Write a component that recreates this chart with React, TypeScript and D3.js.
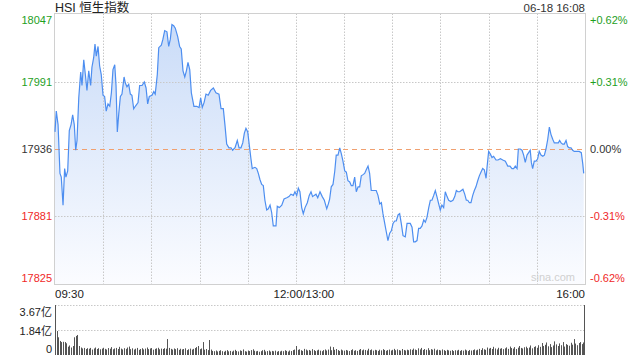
import React, { useMemo } from "react";
import * as d3 from "d3";

// HSI intraday, [minute since 09:30 (lunch removed), price]
const prevClose = 17936;
const priceTicks = [17825, 17881, 17936, 17991, 18047];
const volTicks = [0, 1.84, 3.67];
const timeLabels = [
  { m: 0, text: "09:30", anchor: "start" },
  { m: 150, text: "12:00/13:00", anchor: "middle" },
  { m: 330, text: "16:00", anchor: "end" },
];

const prices: [number, number][] = [
  [0, 17950], [0.8, 17967], [1.9, 17956], [3.1, 17916], [3.9, 17913], [5.0, 17890],
  [6.0, 17920], [6.8, 17913], [7.9, 17918], [8.9, 17951], [10.0, 17956], [11.0, 17964],
  [12.0, 17956], [12.9, 17935], [13.7, 17943], [14.8, 17978], [16.0, 17999], [16.8, 17988],
  [17.9, 18009], [18.9, 17997], [19.9, 17984], [21.0, 18000], [22.2, 17988], [23.0, 18003],
  [24.1, 18011], [24.9, 18022], [25.7, 18012], [26.8, 18020], [27.8, 18004], [28.8, 17997],
  [29.9, 17980], [30.9, 17979], [31.9, 17967], [33.0, 17973], [34.1, 17971], [35.1, 17982],
  [36.1, 18001], [37.2, 18005], [38.0, 17988], [38.8, 17950], [39.7, 17965], [40.7, 17979],
  [41.7, 17981], [43.0, 17995], [43.8, 17990], [44.8, 17987], [45.9, 17989], [46.9, 17981],
  [47.9, 17980], [49.0, 17969], [50.0, 17971], [51.7, 17974], [52.7, 17988], [54.2, 17988],
  [55.6, 17991], [56.7, 17986], [57.7, 17973], [58.7, 17979], [60.4, 17980], [61.5, 17983],
  [62.4, 17981], [63.7, 17997], [64.6, 18019], [66.2, 18021], [67.2, 18026], [68.3, 18033],
  [69.7, 18032], [70.8, 18020], [71.8, 18026], [72.8, 18038], [73.9, 18037], [74.9, 18035],
  [76.4, 18028], [77.6, 18020], [78.6, 18018], [79.7, 18000], [80.8, 17995], [81.8, 18000],
  [82.8, 18007], [83.9, 18001], [84.9, 17982], [86.5, 17971], [88.2, 17971], [89.7, 17970],
  [90.7, 17978], [91.7, 17970], [92.8, 17974], [94.0, 17981], [95.4, 17980], [96.9, 17984],
  [98.6, 17986], [100.2, 17982], [102.1, 17981], [103.4, 17969], [104.8, 17969], [105.8, 17956],
  [106.9, 17940], [108.3, 17937], [109.6, 17937], [110.6, 17935], [112.1, 17937], [113.5, 17943],
  [114.6, 17937], [115.8, 17937], [116.9, 17941], [117.9, 17949], [118.9, 17953], [120.0, 17950],
  [121.0, 17939], [122.0, 17928], [122.8, 17920], [124.5, 17921], [125.6, 17920], [126.6, 17916],
  [127.6, 17911], [128.7, 17907], [129.7, 17906], [130.7, 17894], [131.8, 17886], [132.8, 17887],
  [133.9, 17890], [134.9, 17884], [135.9, 17873], [137.6, 17873], [138.4, 17889], [139.7, 17888],
  [141.2, 17890], [142.6, 17895], [144.3, 17896], [145.7, 17897], [146.9, 17899], [148.4, 17898],
  [149.4, 17901], [150.5, 17898], [151.5, 17904], [152.5, 17901], [153.6, 17888], [154.6, 17883],
  [155.7, 17888], [157.1, 17892], [158.3, 17898], [159.4, 17901], [160.4, 17897], [161.4, 17898],
  [162.5, 17899], [163.6, 17896], [165.0, 17901], [166.4, 17897], [167.7, 17894], [169.2, 17887],
  [170.2, 17891], [171.0, 17895], [172.0, 17905], [173.1, 17907], [174.2, 17918], [175.1, 17931],
  [176.2, 17931], [177.3, 17937], [178.3, 17932], [179.3, 17926], [180.4, 17918], [181.4, 17917],
  [182.4, 17910], [183.5, 17909], [184.5, 17906], [185.5, 17906], [186.6, 17913], [187.6, 17901],
  [188.7, 17905], [189.7, 17905], [190.7, 17914], [191.8, 17915], [192.8, 17916], [193.8, 17919],
  [194.9, 17922], [195.9, 17916], [196.9, 17902], [198.4, 17902], [200.0, 17902], [201.1, 17898],
  [202.2, 17891], [203.2, 17892], [204.2, 17883], [205.3, 17875], [206.3, 17868], [207.3, 17861],
  [208.4, 17867], [209.4, 17869], [210.5, 17875], [211.5, 17877], [212.5, 17877], [213.6, 17882],
  [214.6, 17883], [215.6, 17875], [216.7, 17865], [218.1, 17864], [219.2, 17875], [220.2, 17875],
  [221.2, 17875], [222.3, 17872], [223.3, 17860], [224.3, 17860], [225.4, 17861], [226.4, 17871],
  [227.4, 17871], [228.5, 17873], [229.6, 17878], [230.6, 17876], [231.6, 17880], [232.7, 17888],
  [233.7, 17894], [234.7, 17894], [235.8, 17898], [236.8, 17902], [237.8, 17897], [238.9, 17891],
  [239.9, 17886], [240.9, 17890], [242.0, 17888], [243.0, 17901], [244.1, 17897], [245.1, 17894],
  [246.4, 17893], [247.8, 17894], [248.9, 17897], [249.9, 17902], [250.9, 17901], [252.0, 17901],
  [253.0, 17902], [254.0, 17903], [255.1, 17899], [256.1, 17894], [257.0, 17894], [258.0, 17892],
  [259.0, 17892], [260.1, 17898], [261.1, 17902], [262.1, 17905], [263.2, 17910], [264.2, 17914],
  [265.2, 17917], [266.3, 17920], [267.3, 17919], [268.4, 17912], [269.0, 17921], [270.0, 17934],
  [271.0, 17932], [272.1, 17929], [273.1, 17930], [274.6, 17927], [275.8, 17927], [277.3, 17928],
  [278.8, 17927], [280.4, 17926], [281.9, 17922], [283.3, 17922], [284.5, 17920], [285.6, 17920],
  [286.6, 17922], [287.7, 17920], [288.5, 17936], [289.7, 17936], [290.8, 17935], [291.8, 17931],
  [292.8, 17925], [293.9, 17931], [294.9, 17933], [295.9, 17935], [296.6, 17925], [297.4, 17920],
  [298.4, 17926], [299.5, 17926], [300.5, 17928], [301.5, 17934], [302.6, 17931], [303.7, 17930],
  [304.7, 17931], [305.7, 17936], [306.8, 17944], [307.8, 17954], [308.8, 17948], [309.9, 17944],
  [310.9, 17941], [312.4, 17941], [313.4, 17941], [314.2, 17943], [315.1, 17941], [316.1, 17940],
  [317.1, 17940], [318.2, 17943], [319.2, 17938], [320.2, 17937], [321.3, 17937], [322.3, 17935],
  [323.3, 17934], [325.0, 17934], [326.4, 17934], [327.7, 17933], [328.6, 17924], [329.2, 17916],
];

// volume per minute, 亿
const volumes = [
  3.67, 1.76, 1.30, 1.03, 0.95, 0.97, 0.95, 0.86, 0.61, 0.70,
  0.55, 0.66, 1.30, 1.40, 1.47, 0.66, 0.55, 0.48, 0.52, 0.44,
  0.50, 0.46, 0.52, 0.40, 0.48, 0.55, 0.44, 0.50, 0.42, 0.47,
  0.53, 0.45, 0.40, 0.51, 0.46, 0.58, 0.42, 0.48, 0.52, 0.44,
  0.60, 0.47, 0.41, 0.50, 0.45, 0.55, 0.62, 0.43, 0.49, 0.40,
  0.46, 0.52, 0.38, 0.44, 0.50, 0.41, 0.47, 0.55, 0.43, 0.48,
  0.51, 0.39, 0.45, 0.49, 0.53, 0.42, 0.47, 0.44, 0.50, 0.46,
  1.17, 0.52, 0.45, 0.40, 0.48, 0.43, 0.50, 0.38, 0.46, 0.41,
  0.44, 0.49, 0.36, 0.42, 0.47, 0.40, 0.45, 0.51, 0.58, 0.66,
  0.43, 0.48, 0.95, 0.39, 0.44, 0.36, 1.10, 0.40, 0.30, 0.28,
  0.33, 0.26, 0.30, 0.35, 0.28, 0.24, 0.31, 0.36, 0.27, 0.30,
  0.25, 0.32, 0.38, 0.29, 0.26, 0.34, 0.30, 0.41, 0.28, 0.25,
  0.33, 0.29, 0.36, 0.42, 0.31, 0.27, 0.30, 0.24, 0.28, 0.35,
  0.38, 0.26, 0.29, 0.33, 0.25, 0.30, 0.27, 0.32, 0.24, 0.29,
  0.26, 0.31, 0.28, 0.35, 0.30, 0.25, 0.33, 0.29, 0.36, 0.40,
  0.66, 0.38, 0.42, 0.35, 0.30, 0.45, 0.40, 0.33, 0.37, 0.31,
  0.43, 0.36, 0.29, 0.34, 0.39, 0.32, 0.28, 0.36, 0.41, 0.33,
  0.40, 0.62, 0.35, 0.58, 0.38, 0.44, 0.36, 0.30, 0.40, 0.34,
  0.32, 0.37, 0.33, 0.29, 0.36, 0.42, 0.31, 0.35, 0.30, 0.38,
  0.44, 0.34, 0.40, 0.37, 0.33, 0.46, 0.36, 0.41, 0.32, 0.38,
  0.35, 0.30, 0.39, 0.34, 0.43, 0.37, 0.31, 0.36, 0.40, 0.33,
  0.38, 0.45, 0.35, 0.41, 0.36, 0.32, 0.44, 0.37, 0.33, 0.39,
  0.35, 0.42, 0.38, 0.47, 0.40, 0.36, 0.49, 0.41, 0.52, 0.37,
  0.44, 0.38, 0.50, 0.35, 0.43, 0.39, 0.46, 0.34, 0.40, 0.37,
  0.33, 0.41, 0.36, 0.30, 0.38, 0.34, 0.31, 0.36, 0.29, 0.35,
  0.33, 0.38, 0.30, 0.36, 0.32, 0.40, 0.34, 0.29, 0.37, 0.33,
  0.36, 0.41, 0.34, 0.39, 0.45, 0.37, 0.50, 0.42, 0.38, 0.55,
  0.47, 0.52, 0.44, 0.60, 0.48, 0.41, 0.53, 0.46, 0.50, 0.43,
  0.49, 0.56, 0.45, 0.62, 0.51, 0.47, 0.58, 0.44, 0.54, 0.66,
  0.52, 0.48, 0.57, 0.61, 0.50, 0.55, 0.70, 0.49, 0.59, 0.64,
  0.53, 0.72, 0.60, 0.88, 0.66, 0.75, 0.92, 0.64, 0.80, 0.58,
  0.70, 1.00, 0.78, 0.66, 0.85, 0.72, 0.95, 0.62, 0.80, 0.74,
  0.68, 0.90, 0.76, 1.17, 0.84, 0.72, 0.88, 0.95, 0.80, 0.92,
  3.67,
];

const W = 640;
const H = 360;
const left = 55;
const right = 585;
const top = 13.5;
const bottom = 284.5;
const volTop = 305;
const volBottom = 355;

const GREEN = "#1ea01e";
const RED = "#f02828";
const DARK = "#333";
const font = "'Liberation Sans', Arial, sans-serif";

function tickColor(v: number) {
  if (v > prevClose) return GREEN;
  if (v < prevClose) return RED;
  return DARK;
}

export default function App() {
  const x = useMemo(() => d3.scaleLinear().domain([0, 330]).range([left, right]), []);
  const y = useMemo(
    () => d3.scaleLinear().domain([priceTicks[0], priceTicks[4]]).range([bottom, top]),
    [],
  );
  const yv = useMemo(
    () => d3.scaleLinear().domain([0, volTicks[2]]).range([volBottom, volTop]),
    [],
  );

  const line = d3
    .line<[number, number]>()
    .x((d) => x(d[0]))
    .y((d) => y(d[1]));
  const area = d3
    .area<[number, number]>()
    .x((d) => x(d[0]))
    .y0(bottom)
    .y1((d) => y(d[1]));

  const gridMinutes = d3.range(30, 330, 30);

  return (
    <svg
      width={W}
      height={H}
      style={{ position: "absolute", left: 0, top: 0, background: "#fff" }}
      fontFamily={font}
    >
      <defs>
        <linearGradient id="fillGrad" x1="0" y1="0" x2="0" y2="1">
          <stop offset="0%" stopColor="#cadcf8" />
          <stop offset="100%" stopColor="#fbfcff" />
        </linearGradient>
      </defs>

      {/* header */}
      <text x={left} y={12} fontSize={12.5} fill="#222"
        fontFamily="'Liberation Sans', 'Noto Sans CJK SC', sans-serif">
        HSI 恒生指数
      </text>
      <text x={right} y={12} fontSize={11.5} fill="#333" textAnchor="end">
        06-18 16:08
      </text>

      {/* price area + line */}
      <path d={area(prices) ?? ""} fill="url(#fillGrad)" />

      {/* grid */}
      <g stroke="#c8c8c8" strokeDasharray="1.5,1.5" strokeWidth={1}>
        {gridMinutes.map((m) => (
          <line key={m} x1={Math.round(x(m)) + 0.5} x2={Math.round(x(m)) + 0.5} y1={top} y2={bottom} />
        ))}
        {priceTicks
          .filter((t) => t !== prevClose && t !== priceTicks[0] && t !== priceTicks[4])
          .map((t) => (
            <line key={t} x1={left} x2={right} y1={Math.round(y(t)) + 0.5} y2={Math.round(y(t)) + 0.5} />
          ))}
      </g>
      <line
        x1={left}
        x2={right}
        y1={Math.round(y(prevClose)) + 0.5}
        y2={Math.round(y(prevClose)) + 0.5}
        stroke="#f0a070"
        strokeDasharray="5,4"
      />
      <rect x={left - 0.5} y={top} width={right - left + 1} height={bottom - top}
        fill="none" stroke="#d0d0d0" />

      <path d={line(prices) ?? ""} fill="none" stroke="#4d8ef0" strokeWidth={1.2} />

      <text x={575} y={281} fontSize={11} fill="#d0d0d0" textAnchor="end">sina.com</text>

      {/* price labels */}
      <g fontSize={11}>
        {priceTicks.map((t, i) => {
          const yy = i === 0 ? y(t) - 3 : i === 4 ? y(t) + 10 : y(t) + 4;
          const pct = ((t - prevClose) / prevClose) * 100;
          const pctText = (pct > 0 ? "+" : "") + pct.toFixed(2) + "%";
          return (
            <g key={t} fill={tickColor(t)}>
              <text x={52} y={yy} textAnchor="end">{t}</text>
              <text x={590} y={yy}>{pctText}</text>
            </g>
          );
        })}
      </g>

      {/* time labels */}
      <g fontSize={11.5} fill="#222">
        {timeLabels.map((t) => (
          <text key={t.text} x={t.anchor === "middle" ? x(t.m) + 8 : x(t.m)} y={298}
            textAnchor={t.anchor as any}>
            {t.text}
          </text>
        ))}
      </g>

      {/* volume panel */}
      <g stroke="#c8c8c8" strokeDasharray="1.5,1.5">
        {volTicks.slice(1).map((v) => (
          <line key={v} x1={left} x2={right} y1={Math.round(yv(v)) + 0.5} y2={Math.round(yv(v)) + 0.5} />
        ))}
      </g>
      <g fill="#555">
        {volumes.map((v, i) => (
          <rect key={i} x={Math.round(x(i)) - (i === volumes.length - 1 ? 1 : 0)} y={yv(v)}
            width={1} height={volBottom - yv(v)} />
        ))}
      </g>
      <g fontSize={11} fill="#222"
        fontFamily="'Liberation Sans', 'Noto Sans CJK SC', sans-serif">
        {volTicks.map((v, i) => (
          <text key={v} x={52} y={i === 2 ? yv(v) + 11 : i === 0 ? yv(v) - 2 : yv(v) + 5}
            textAnchor="end">
            {v === 0 ? "0" : v.toFixed(2) + "亿"}
          </text>
        ))}
      </g>
    </svg>
  );
}
